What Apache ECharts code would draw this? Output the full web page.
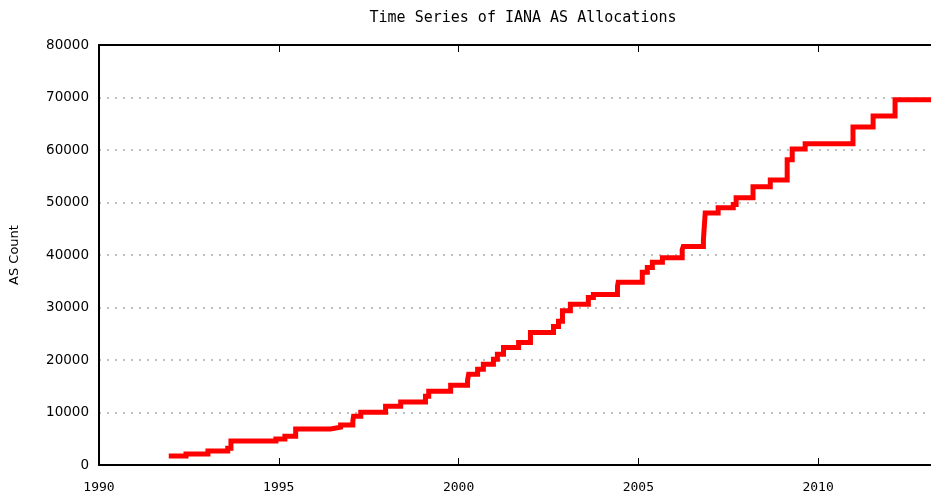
<!DOCTYPE html>
<html>
	<head>
		<meta charset="utf-8">
		<title></title>
		<script src='https://cdn.jsdelivr.net/npm/echarts@6/dist/echarts.min.js'></script>
		<style>
			body{ margin:0; }
			#chart{
				width: 931px;
				height: 494px;
			}
		</style>
	</head>
	<body>
		<div id="chart"></div>
		<script>
            // allocation dates (decimal years) and AS counts after each step
            const years = [1991.94, 1992.42, 1993.03, 1993.58, 1993.67, 1994.92, 1995.17, 1995.47,
                1996.44, 1996.72, 1997.06, 1997.08, 1997.28, 1997.97, 1998.39, 1999.08, 1999.17,
                1999.78, 2000.25, 2000.28, 2000.53, 2000.69, 2000.97, 2001.08, 2001.25, 2001.67,
                2002.0, 2002.64, 2002.78, 2002.89, 2003.11, 2003.61, 2003.75, 2004.42, 2004.44,
                2005.11, 2005.25, 2005.39, 2005.67, 2006.22, 2006.25, 2006.81, 2006.86, 2007.22,
                2007.64, 2007.72, 2008.19, 2008.67, 2009.14, 2009.28, 2009.64, 2010.97, 2011.53,
                2012.14, 2013.14];
            const counts = [1700, 2100, 2650, 3200, 4550, 4950, 5500, 6850,
                7200, 7600, 8350, 9300, 10050, 11200, 12000, 13100, 14050,
                15200, 16150, 17300, 18250, 19200, 20150, 21100, 22400, 23350,
                25250, 26400, 27400, 29400, 30600, 31900, 32500, 34000, 34800,
                36700, 37600, 38600, 39500, 41000, 41600, 42900, 48000, 49000,
                49600, 50900, 53000, 54300, 58150, 60200, 61200, 64400, 66500,
                69550, 69550];
            const xTicks = [1990, 1995, 2000, 2005, 2010];
            const yMax = 80000;

            const chart = echarts.init(document.getElementById('chart'), null, {renderer:'canvas'});
            const mono = 'DejaVu Sans Mono';
            const axisCol = '#000';
            const option = {
                animation:false,
                title:{
                    text:'Time Series of IANA AS Allocations',
                    left:518,
                    textAlign:'center',
                    top:6,
                    textStyle:{ fontFamily:mono, fontSize:15, fontWeight:'normal', color:'#000' }
                },
                grid:{ left:98, right:0, top:45, bottom:28 },
                xAxis:[{
                    type:'value',
                    min:xTicks[0],
                    max:years[years.length-1],
                    interval:5,
                    axisLine:{ lineStyle:{ color:axisCol, width:2 } },
                    axisTick:{ inside:true, length:7, lineStyle:{ color:axisCol } },
                    axisLabel:{ showMaxLabel:false, margin:16, fontFamily:mono, fontSize:13, color:'#000',
                        formatter: v => xTicks.includes(v) ? String(v) : '' },
                    splitLine:{ show:false }
                },{
                    type:'value',
                    position:'top',
                    min:xTicks[0],
                    max:years[years.length-1],
                    interval:5,
                    axisLine:{ lineStyle:{ color:axisCol, width:2 } },
                    axisTick:{ inside:true, length:7, lineStyle:{ color:axisCol } },
                    axisLabel:{ show:false },
                    splitLine:{ show:false }
                }],
                yAxis:{
                    type:'value',
                    min:0,
                    max:yMax,
                    interval:10000,
                    name:'AS Count',
                    nameLocation:'middle',
                    nameGap:78,
                    nameTextStyle:{ fontFamily:'DejaVu Sans', fontSize:13, color:'#000' },
                    axisLine:{ show:true, lineStyle:{ color:axisCol, width:2 } },
                    axisTick:{ show:false },
                    axisLabel:{ margin:10, fontFamily:'DejaVu Sans', fontSize:13.5, color:'#000',
                        formatter: v => String(v) },
                    splitLine:{ show:true, lineStyle:{ color:'#aaa', type:[2,6], width:1.5 } }
                },
                series:[{
                    type:'line',
                    step:'end',
                    showSymbol:false,
                    lineStyle:{ color:'#ff0000', width:5, join:'miter', cap:'butt' },
                    data: years.map((y, i) => [y, counts[i]])
                }]
            };
            chart.setOption(option);
		</script>
	</body>
</html>
